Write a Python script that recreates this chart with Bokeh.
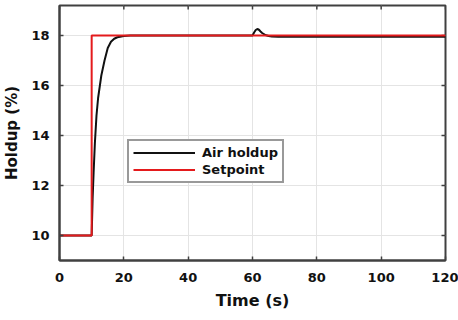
import math
from bokeh.plotting import figure
from bokeh.models import Range1d, Legend, LegendItem, FixedTicker
from bokeh.embed import file_html
from bokeh.resources import INLINE

# Data
t_air = [0, 10, 10.3, 10.6, 11, 11.5, 12, 12.5, 13, 14, 15, 16, 17, 18, 20, 22, 25, 30, 60,
         60.5, 61, 61.5, 62, 62.5, 63, 64, 65, 66, 68, 70, 72, 80, 120]
y_air = [10, 10, 11.5, 12.5, 13.7, 14.8, 15.5, 15.95, 16.4, 17.0, 17.5, 17.75, 17.87, 17.93, 17.98, 18.0, 18.0, 18.0, 18.0,
         18.12, 18.22, 18.26, 18.23, 18.16, 18.1, 18.02, 17.98, 17.96, 17.95, 17.95, 17.95, 17.95, 17.95]
t_sp = [0, 10, 10, 120]
y_sp = [10, 10, 18, 18]
x_ticks = [0, 20, 40, 60, 80, 100, 120]
y_ticks = [10, 12, 14, 16, 18]
X_MIN, X_MAX = 0, 120
Y_MIN, Y_MAX = 9, 19.2

FONT = "DejaVu Sans"
FRAME = "#404040"

p = figure(width=458, height=320, output_backend="svg", toolbar_location=None,
           x_range=Range1d(X_MIN, X_MAX), y_range=Range1d(Y_MIN, Y_MAX),
           min_border_left=57, min_border_right=13, min_border_top=5, min_border_bottom=60)
p.background_fill_color = "white"
p.border_fill_color = "white"
p.outline_line_color = FRAME
p.outline_line_width = 2

for ax in (p.xaxis[0], p.yaxis[0]):
    ax.major_tick_in = 4
    ax.major_tick_out = 0
    ax.minor_tick_line_color = None
    ax.axis_line_color = FRAME
    ax.axis_line_width = 2
    ax.major_tick_line_color = FRAME
    ax.major_tick_line_width = 1.5
    ax.major_label_text_font = FONT
    ax.major_label_text_font_style = "bold"
    ax.major_label_text_font_size = "13px"
    ax.major_label_text_color = "#111111"
    ax.axis_label_text_font = FONT
    ax.axis_label_text_font_style = "bold"
    ax.axis_label_text_color = "#111111"

p.xaxis[0].ticker = FixedTicker(ticks=x_ticks)
p.yaxis[0].ticker = FixedTicker(ticks=y_ticks)
p.xaxis[0].axis_label = "Time (s)"
p.yaxis[0].axis_label = "Holdup (%)"
p.xaxis[0].axis_label_text_font_size = "16px"
p.yaxis[0].axis_label_text_font_size = "15px"
p.xaxis[0].major_label_standoff = 12
p.yaxis[0].major_label_standoff = 10
p.xaxis[0].axis_label_standoff = 6
p.yaxis[0].axis_label_standoff = 7

p.xgrid.ticker = FixedTicker(ticks=x_ticks)
p.ygrid.ticker = FixedTicker(ticks=y_ticks)
p.grid.grid_line_color = "#e4e4e4"
p.grid.grid_line_width = 1

# MATLAB-style box: inward ticks on the top and right edges (half clipped by the frame)
p.scatter(x_ticks, [Y_MAX] * len(x_ticks), marker="dash", angle=math.pi / 2, size=8,
          line_color=FRAME, line_width=1.5)
p.scatter([X_MAX] * len(y_ticks), y_ticks, marker="dash", size=8,
          line_color=FRAME, line_width=1.5)

r_air = p.line(t_air, y_air, line_color="#111111", line_width=2)
r_sp = p.line(t_sp, y_sp, line_color="#e41a1c", line_width=2)

legend = Legend(items=[LegendItem(label="Air holdup", renderers=[r_air]),
                       LegendItem(label="Setpoint", renderers=[r_sp])],
                location=(68, 77))
legend.label_text_font = FONT
legend.label_text_font_style = "bold"
legend.label_text_font_size = "13px"
legend.label_text_color = "#111111"
legend.glyph_width = 62
legend.glyph_height = 15
legend.label_height = 15
legend.spacing = 2
legend.padding = 4
legend.margin = 0
legend.label_standoff = 7
legend.border_line_color = "#333333"
legend.border_line_width = 2
legend.background_fill_alpha = 1
p.add_layout(legend, "center")

open("out.html", "w").write(file_html(p, INLINE))
